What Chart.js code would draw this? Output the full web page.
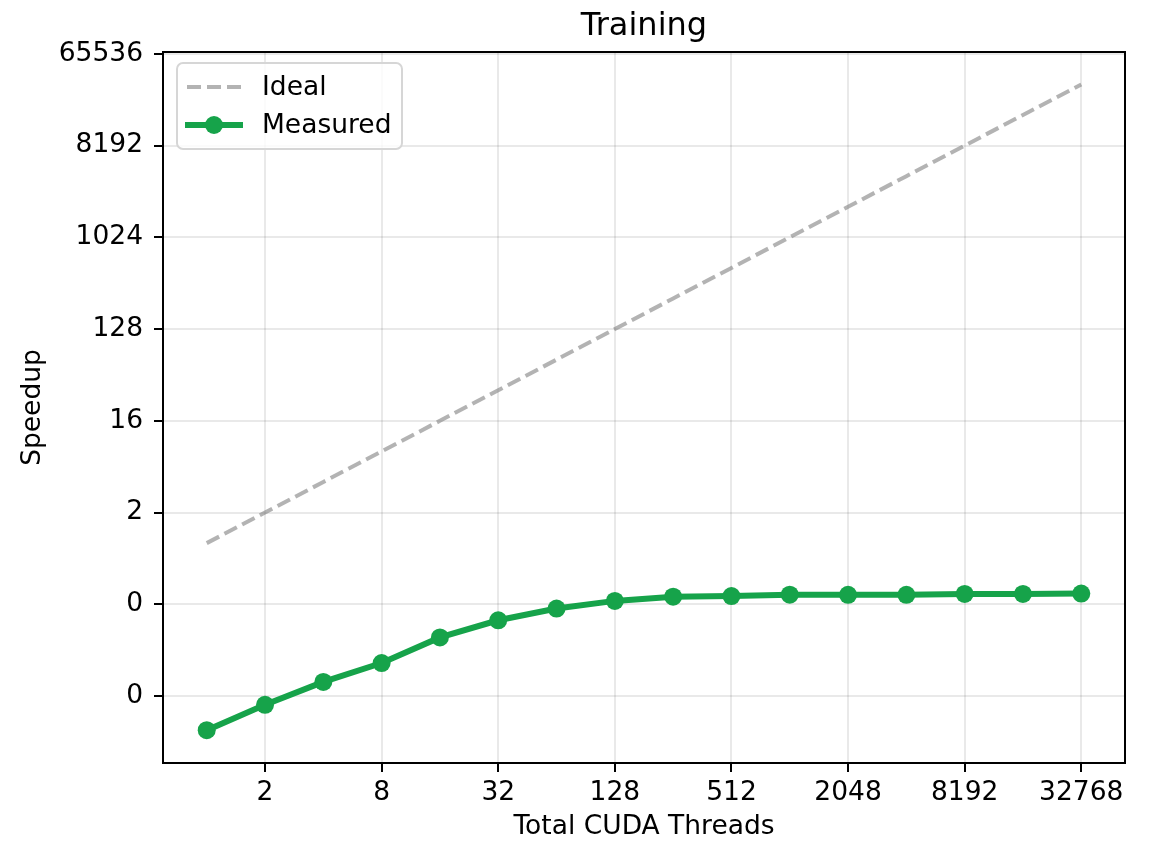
<!DOCTYPE html>
<html>
<head>
<meta charset="utf-8">
<script src="https://cdn.jsdelivr.net/npm/chart.js@4.4.1/dist/chart.umd.min.js"></script>
<style>
  html, body { margin: 0; padding: 0; background: #fff; }
  #wrap { width: 1149px; height: 843px; }
</style>
</head>
<body>
<div id="wrap"><canvas id="trainingChart" width="1149" height="843"></canvas></div>
<script>
// 스레드 수 (x) 와 측정값
const threadCounts = [1, 2, 4, 8, 16, 32, 64, 128, 256, 512, 1024, 2048, 4096, 8192, 16384, 32768];
const idealSpeedup = [1, 2, 4, 8, 16, 32, 64, 128, 256, 512, 1024, 2048, 4096, 8192, 16384, 32768];
const measuredSpeedup = [0.0144, 0.0256, 0.043, 0.066, 0.118, 0.174, 0.227, 0.27, 0.297, 0.301, 0.311, 0.31, 0.31, 0.316, 0.316, 0.319];

const xTickValues = [2, 8, 32, 128, 512, 2048, 8192, 32768];
const yTickValues = [0.03125, 0.25, 2, 16, 128, 1024, 8192, 65536];

const FONT = "'DejaVu Sans', sans-serif";
const GREEN = '#16a34a';
const IDEAL_GRAY = 'rgba(128,128,128,0.6)';

// 축 테두리 (위/오른쪽 포함) + 플롯 영역 기준 제목
const frameBox = {
    id: 'frameBox',
    afterDatasetsDraw(chart) {
        const { ctx, chartArea: a } = chart;
        ctx.save();
        ctx.strokeStyle = '#000';
        ctx.lineWidth = 2;
        ctx.strokeRect(a.left, a.top, a.right - a.left, a.bottom - a.top);

        ctx.fillStyle = '#000';
        ctx.font = `32px ${FONT}`;
        ctx.textAlign = 'center';
        ctx.textBaseline = 'alphabetic';
        ctx.fillText('Training', (a.left + a.right) / 2, 35);
        ctx.restore();
    }
};

// matplotlib 스타일 범례
const boxLegend = {
    id: 'boxLegend',
    afterDraw(chart) {
        const ctx = chart.ctx;
        const x = 177, y = 63, w = 225, h = 86, r = 6;
        ctx.save();
        ctx.beginPath();
        ctx.roundRect(x, y, w, h, r);
        ctx.fillStyle = 'rgba(255,255,255,0.8)';
        ctx.fill();
        ctx.strokeStyle = '#d6d6d6';
        ctx.lineWidth = 2;
        ctx.stroke();

        // Ideal
        ctx.beginPath();
        ctx.setLineDash([14, 6]);
        ctx.strokeStyle = IDEAL_GRAY;
        ctx.lineWidth = 4;
        ctx.moveTo(187, 87);
        ctx.lineTo(243, 87);
        ctx.stroke();
        ctx.setLineDash([]);

        // Measured
        ctx.beginPath();
        ctx.strokeStyle = GREEN;
        ctx.lineWidth = 6;
        ctx.moveTo(185, 125);
        ctx.lineTo(243, 125);
        ctx.stroke();
        ctx.beginPath();
        ctx.fillStyle = GREEN;
        ctx.arc(214, 125, 9, 0, Math.PI * 2);
        ctx.fill();

        ctx.fillStyle = '#000';
        ctx.font = `26.5px ${FONT}`;
        ctx.textAlign = 'left';
        ctx.textBaseline = 'middle';
        ctx.fillText('Ideal', 262, 88);
        ctx.fillText('Measured', 262, 126);
        ctx.restore();
    }
};

new Chart(document.getElementById('trainingChart').getContext('2d'), {
    type: 'line',
    data: {
        datasets: [
            {
                label: 'Ideal',
                data: threadCounts.map((t, i) => ({ x: t, y: idealSpeedup[i] })),
                borderColor: IDEAL_GRAY,
                borderWidth: 4,
                borderDash: [14, 6],
                pointRadius: 0,
                fill: false,
                tension: 0
            },
            {
                label: 'Measured',
                data: threadCounts.map((t, i) => ({ x: t, y: measuredSpeedup[i] })),
                borderColor: GREEN,
                backgroundColor: GREEN,
                borderWidth: 6,
                pointRadius: 9,
                pointBorderWidth: 0,
                pointBackgroundColor: GREEN,
                fill: false,
                tension: 0
            }
        ]
    },
    options: {
        responsive: false,
        animation: false,
        layout: { padding: { left: 0, right: 24, top: 52, bottom: 0 } },
        plugins: {
            legend: { display: false },
            tooltip: { enabled: false }
        },
        scales: {
            x: {
                type: 'logarithmic',
                min: Math.pow(2, -0.75),
                max: Math.pow(2, 15.75),
                afterBuildTicks: s => { s.ticks = xTickValues.map(v => ({ value: v })); },
                afterFit: s => { s.height = 80; },
                ticks: {
                    color: '#000',
                    font: { family: FONT, size: 26.5 },
                    padding: 5,
                    maxRotation: 0,
                    autoSkip: false,
                    callback: v => String(v)
                },
                grid: { color: 'rgba(0,0,0,0.085)', lineWidth: 2, tickColor: '#000', tickLength: 9, tickWidth: 2 },
                border: { display: true, color: '#000', width: 2 },
                title: {
                    display: true,
                    text: 'Total CUDA Threads',
                    color: '#000',
                    font: { family: FONT, size: 26.5 },
                    padding: { top: 0, bottom: 0 }
                }
            },
            y: {
                type: 'logarithmic',
                min: Math.pow(2, -7.19),
                max: Math.pow(2, 16.06),
                afterBuildTicks: s => { s.ticks = yTickValues.map(v => ({ value: v })); },
                afterFit: s => { s.width = 163; },
                ticks: {
                    color: '#000',
                    font: { family: FONT, size: 26.5 },
                    padding: 11,
                    autoSkip: false,
                    callback: v => String(Math.trunc(v))
                },
                grid: { color: 'rgba(0,0,0,0.085)', lineWidth: 2, tickColor: '#000', tickLength: 9, tickWidth: 2 },
                border: { display: true, color: '#000', width: 2 },
                title: {
                    display: true,
                    text: 'Speedup',
                    color: '#000',
                    font: { family: FONT, size: 26.5 },
                    padding: { top: 17, bottom: 0 }
                }
            }
        }
    },
    plugins: [frameBox, boxLegend]
});
</script>
</body>
</html>
